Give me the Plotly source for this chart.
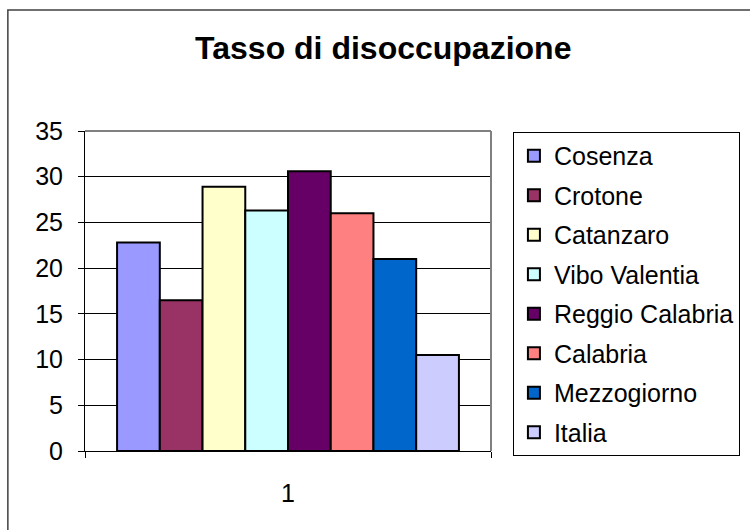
import plotly.graph_objects as go

# Data
categories = ['1']
regions = ['Cosenza', 'Crotone', 'Catanzaro', 'Vibo Valentia', 'Reggio Calabria',
           'Calabria', 'Mezzogiorno', 'Italia']
rates = [22.8, 16.5, 28.9, 26.3, 30.6, 26.0, 21.0, 10.5]
colors = ['#9999FF', '#993366', '#FFFFCC', '#CCFFFF', '#660066', '#FF8080', '#0066CC', '#CCCCFF']

font_family = 'Arial, Liberation Sans, sans-serif'

fig = go.Figure()
for name, val, col in zip(regions, rates, colors):
    fig.add_trace(go.Bar(
        x=categories,
        y=[val],
        name=name,
        legendgroup=name,
        marker=dict(color=col, line=dict(color='black', width=2)),
    ))

fig.update_layout(
    width=750,
    height=530,
    barmode='group',
    bargap=0.158,
    bargroupgap=0,
    title=dict(text='<b>Tasso di disoccupazione</b>', x=0.511, xanchor='center',
               y=0.909, yanchor='middle', font=dict(size=32, color='black', family=font_family)),
    font=dict(family=font_family, size=25, color='black'),
    margin=dict(l=85, r=259, t=131, b=79, autoexpand=False),
    paper_bgcolor='white',
    plot_bgcolor='white',
    xaxis=dict(
        type='category',
        showline=True, linecolor='black', linewidth=1,
        ticks='outside', tickson='boundaries', ticklen=6, tickcolor='black',
        ticklabelstandoff=20,
        showgrid=False,
        tickfont=dict(size=25),
    ),
    yaxis=dict(
        range=[0, 35],
        dtick=5,
        showline=True, linecolor='black', linewidth=1,
        ticks='outside', ticklen=6, tickcolor='black',
        ticklabelstandoff=10,
        showgrid=True, gridcolor='black', gridwidth=1,
        zeroline=False,
        tickfont=dict(size=25),
    ),
    legend=dict(
        x=1.054, xanchor='left',
        y=0.997, yanchor='top',
        bordercolor='black', borderwidth=1,
        font=dict(size=25),
        tracegroupgap=4,
        itemwidth=30,
        traceorder='grouped',
        maxheight=400,
    ),
    shapes=[
        # outer chart border
        dict(type='rect', xref='paper', yref='paper', x0=-0.19, x1=1.7, y0=-0.3, y1=1.378,
             line=dict(color='#404040', width=1.5), layer='below'),
        # plot area top and right edges
        dict(type='line', xref='paper', yref='paper', x0=0, x1=1, y0=1, y1=1,
             line=dict(color='#808080', width=2)),
        dict(type='line', xref='paper', yref='paper', x0=1, x1=1, y0=0, y1=1,
             line=dict(color='#808080', width=2)),
    ],
)

fig.write_html('out.html', config={'displayModeBar': False},
               post_script="document.body.style.margin='0';")
